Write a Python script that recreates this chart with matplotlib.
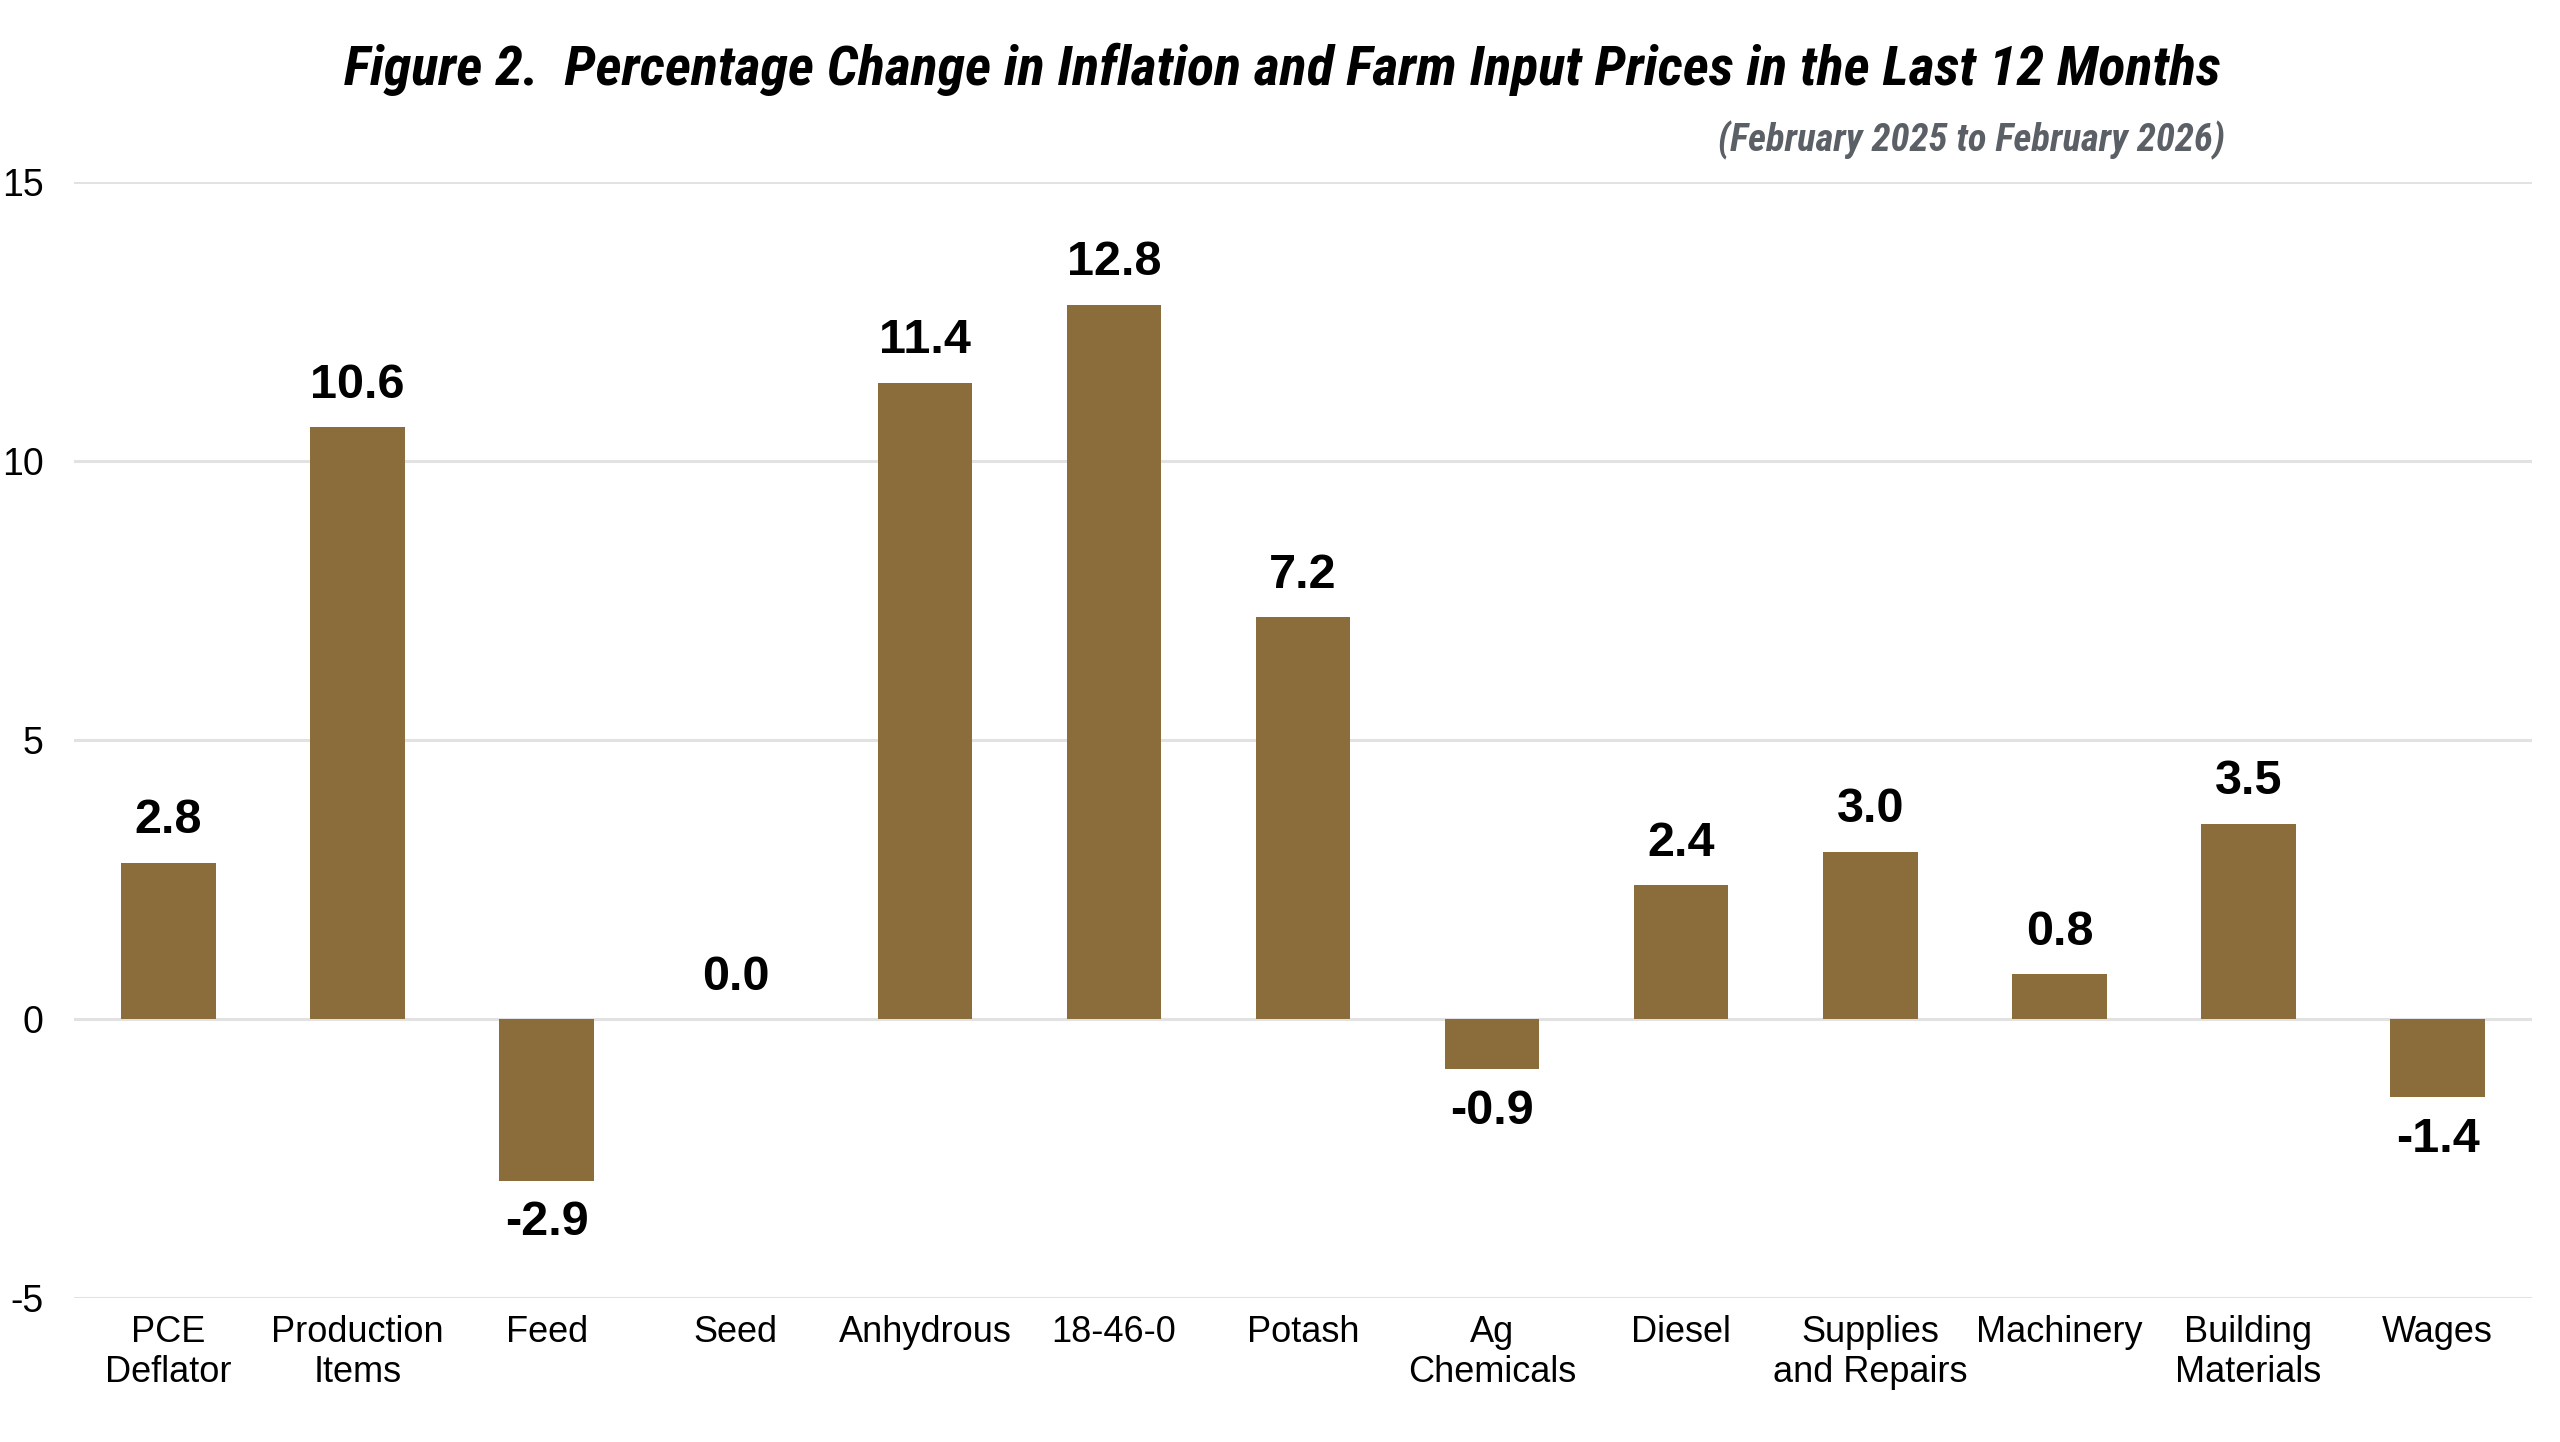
import matplotlib
matplotlib.use("Agg")
import matplotlib.pyplot as plt
from matplotlib import font_manager
import numpy as np

categories = ["PCE\nDeflator", "Production\nItems", "Feed", "Seed", "Anhydrous", "18-46-0",
              "Potash", "Ag\nChemicals", "Diesel", "Supplies\nand Repairs", "Machinery",
              "Building\nMaterials", "Wages"]
values = [2.8, 10.6, -2.9, 0.0, 11.4, 12.8, 7.2, -0.9, 2.4, 3.0, 0.8, 3.5, -1.4]
yticks = [-5, 0, 5, 10, 15]

bar_color = "#8B6D3C"
plt.rcParams['font.family'] = ['Liberation Sans', 'DejaVu Sans']

# narrowest font we can find for the title
installed = {f.name for f in font_manager.fontManager.ttflist}
narrow = 'DejaVu Sans'
for name in ['Liberation Sans Narrow', 'Roboto Condensed', 'Open Sans Condensed',
             'DejaVu Sans Condensed', 'Noto Sans Display', 'Roboto', 'Inter']:
    if name in installed:
        narrow = name
        break

fig = plt.figure(figsize=(25.6, 14.42), dpi=100)
ax = fig.add_axes([0.0289, 0.0999, 0.9602, 0.7739])

x = np.arange(len(categories))
ax.bar(x, values, width=0.5, color=bar_color, zorder=3)
for xi, v in zip(x, values):
    if v >= 0:
        ax.annotate(f"{v:.1f}", (xi, v), xytext=(0, 14), textcoords="offset points",
                    ha="center", va="bottom", fontsize=35, fontweight="bold")
    else:
        ax.annotate(f"{v:.1f}", (xi, v), xytext=(0, -14), textcoords="offset points",
                    ha="center", va="top", fontsize=35, fontweight="bold")

ax.set_xlim(-0.5, len(categories) - 0.5)
ax.set_ylim(-5, 15)
ax.set_yticks(yticks)
ax.set_yticklabels([str(t) for t in yticks])
ax.set_xticks(x)
ax.set_xticklabels(categories, linespacing=1.2)
ax.tick_params(axis="y", length=0, pad=22, labelsize=27)
ax.tick_params(axis="x", length=0, pad=12, labelsize=26)
ax.grid(axis="y", color="#e2e2e2", linewidth=2.2, zorder=0)
for s in ax.spines.values():
    s.set_visible(False)

title = fig.text(0.501, 0.952, "Figure 2.  Percentage Change in Inflation and Farm Input Prices in the Last 12 Months",
                 ha="center", va="center", fontsize=50, fontweight="bold", fontstyle="italic",
                 family=[narrow, 'DejaVu Sans'])
sub = fig.text(0.869, 0.903, "(February 2025 to February 2026)", ha="right", va="center",
               fontsize=30, fontweight="bold", fontstyle="italic", color="#5b5f66",
               family=[narrow, 'DejaVu Sans'])

# shrink texts to the widths they have in the original
r = fig.canvas.get_renderer()
for t, target in [(title, 1880), (sub, 506)]:
    w = t.get_window_extent(r).width
    if w > target:
        t.set_fontsize(t.get_fontsize() * target / w)

fig.savefig("out.png", dpi=100, facecolor="white")
